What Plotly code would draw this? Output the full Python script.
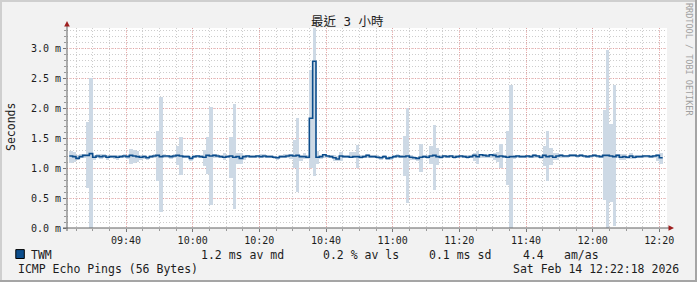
import plotly.graph_objects as go
import pandas as pd

# ---------------- data (ms), one value per minute starting 09:23 ----------------
start_time = "2026-02-14 09:23:00"
range_start = "2026-02-14 09:22:18"
range_end = "2026-02-14 12:22:18"

median = [
    1.20, 1.19, 1.16, 1.19, 1.21, 1.21, 1.24, 1.18, 1.20, 1.19,
    1.20, 1.18, 1.19, 1.19, 1.18, 1.19, 1.20, 1.19, 1.21, 1.20,
    1.19, 1.18, 1.19, 1.17, 1.19, 1.20, 1.21, 1.19, 1.20, 1.20,
    1.19, 1.20, 1.21, 1.20, 1.19, 1.19, 1.16, 1.19, 1.20, 1.19,
    1.18, 1.21, 1.20, 1.21, 1.20, 1.19, 1.18, 1.19, 1.20, 1.18,
    1.19, 1.16, 1.19, 1.20, 1.19, 1.19, 1.20, 1.19, 1.20, 1.19,
    1.19, 1.18, 1.17, 1.19, 1.19, 1.20, 1.21, 1.20, 1.21, 1.19,
    1.19, 1.18, 1.83, 2.78, 1.18, 1.19, 1.22, 1.20, 1.19, 1.17,
    1.15, 1.20, 1.19, 1.19, 1.18, 1.19, 1.19, 1.18, 1.19, 1.21,
    1.19, 1.19, 1.18, 1.17, 1.19, 1.16, 1.17, 1.19, 1.20, 1.19,
    1.19, 1.20, 1.18, 1.17, 1.16, 1.18, 1.19, 1.18, 1.20, 1.21,
    1.19, 1.18, 1.20, 1.19, 1.20, 1.18, 1.19, 1.20, 1.19, 1.18,
    1.19, 1.21, 1.19, 1.22, 1.21, 1.20, 1.22, 1.21, 1.19, 1.20,
    1.19, 1.18, 1.19, 1.19, 1.20, 1.19, 1.19, 1.20, 1.19, 1.21,
    1.20, 1.18, 1.21, 1.19, 1.20, 1.18, 1.20, 1.21, 1.20, 1.20,
    1.21, 1.21, 1.20, 1.21, 1.20, 1.19, 1.20, 1.21, 1.20, 1.19,
    1.21, 1.21, 1.20, 1.19, 1.21, 1.18, 1.19, 1.18, 1.20, 1.18,
    1.19, 1.19, 1.20, 1.20, 1.19, 1.20, 1.21, 1.17,
]

smoke_hi = [
    1.28, 1.27, 1.22, 1.23, 1.24, 1.76, 2.50, 1.22, 1.23, 1.23,
    1.23, 1.21, 1.22, 1.22, 1.21, 1.22, 1.23, 1.22, 1.32, 1.30,
    1.28, 1.21, 1.22, 1.20, 1.22, 1.23, 1.61, 2.19, 1.23, 1.22,
    1.22, 1.23, 1.36, 1.51, 1.22, 1.21, 1.19, 1.22, 1.22, 1.21,
    1.30, 1.51, 2.02, 1.24, 1.23, 1.21, 1.25, 1.22, 1.51, 2.07,
    1.25, 1.25, 1.21, 1.22, 1.21, 1.21, 1.22, 1.23, 1.23, 1.22,
    1.21, 1.20, 1.20, 1.21, 1.24, 1.24, 1.23, 1.47, 1.83, 1.22,
    1.25, 1.21, 2.64, 3.45, 1.29, 1.22, 1.24, 1.22, 1.21, 1.21,
    1.20, 1.27, 1.22, 1.21, 1.27, 1.27, 1.39, 1.21, 1.21, 1.23,
    1.22, 1.21, 1.21, 1.20, 1.22, 1.19, 1.20, 1.22, 1.23, 1.22,
    1.54, 2.00, 1.21, 1.20, 1.19, 1.40, 1.22, 1.21, 1.37, 1.71,
    1.33, 1.21, 1.22, 1.21, 1.22, 1.21, 1.21, 1.22, 1.21, 1.21,
    1.21, 1.25, 1.29, 1.24, 1.23, 1.23, 1.24, 1.25, 1.27, 1.40,
    1.22, 1.61, 2.39, 1.21, 1.22, 1.21, 1.21, 1.22, 1.21, 1.23,
    1.22, 1.22, 1.36, 1.61, 1.33, 1.25, 1.25, 1.23, 1.22, 1.22,
    1.23, 1.23, 1.22, 1.23, 1.22, 1.21, 1.22, 1.23, 1.22, 1.21,
    1.96, 2.97, 1.73, 2.39, 1.23, 1.23, 1.23, 1.20, 1.25, 1.21,
    1.21, 1.21, 1.22, 1.22, 1.21, 1.22, 1.24, 1.25,
]

smoke_lo = [
    1.08, 1.10, 1.13, 1.16, 1.17, 0.67, 0.00, 1.14, 1.16, 1.15,
    1.16, 1.14, 1.16, 1.15, 1.14, 1.16, 1.17, 1.15, 1.07, 1.08,
    1.10, 1.14, 1.15, 1.13, 1.16, 1.16, 0.79, 0.26, 1.16, 1.16,
    1.15, 1.16, 1.05, 0.89, 1.16, 1.16, 1.12, 1.16, 1.17, 1.16,
    1.03, 0.90, 0.39, 1.16, 1.16, 1.16, 1.14, 1.16, 0.84, 0.32,
    1.07, 1.07, 1.13, 1.16, 1.16, 1.16, 1.17, 1.16, 1.16, 1.16,
    1.16, 1.15, 1.13, 1.16, 1.16, 1.16, 1.15, 1.00, 0.60, 1.12,
    1.15, 1.15, 1.00, 0.87, 1.07, 1.15, 1.16, 1.17, 1.16, 1.12,
    1.12, 1.12, 1.16, 1.16, 1.17, 1.17, 1.00, 1.15, 1.16, 1.17,
    1.16, 1.16, 1.15, 1.13, 1.16, 1.13, 1.13, 1.16, 1.17, 1.16,
    0.86, 0.42, 1.13, 1.13, 1.12, 0.94, 1.16, 1.15, 1.06, 0.64,
    1.05, 1.15, 1.17, 1.16, 1.17, 1.15, 1.16, 1.17, 1.16, 1.15,
    1.16, 1.12, 1.07, 1.17, 1.17, 1.16, 1.17, 1.13, 1.10, 1.00,
    1.16, 0.72, 0.00, 1.15, 1.16, 1.16, 1.16, 1.17, 1.16, 1.17,
    1.17, 1.15, 1.03, 0.79, 1.05, 1.13, 1.13, 1.17, 1.17, 1.17,
    1.18, 1.18, 1.17, 1.18, 1.17, 1.16, 1.17, 1.18, 1.17, 1.16,
    0.46, 0.00, 0.43, 0.04, 1.17, 1.13, 1.13, 1.15, 1.15, 1.15,
    1.16, 1.16, 1.17, 1.17, 1.16, 1.17, 1.12, 1.06,
]

x_tick_vals = ["2026-02-14 09:40", "2026-02-14 10:00", "2026-02-14 10:20",
               "2026-02-14 10:40", "2026-02-14 11:00", "2026-02-14 11:20",
               "2026-02-14 11:40", "2026-02-14 12:00", "2026-02-14 12:20"]
x_tick_text = ["09:40", "10:00", "10:20", "10:40", "11:00", "11:20",
               "11:40", "12:00", "12:20"]
y_tick_vals = [0.0, 0.5, 1.0, 1.5, 2.0, 2.5, 3.0]
y_tick_text = ["0.0 m", "0.5 m", "1.0 m", "1.5 m", "2.0 m", "2.5 m", "3.0 m"]

title_text = "最近 3 小時"
legend_name = "TWM"
stats = [("1.2 ms av md", 199), ("0.2 % av ls", 320.5), ("0.1 ms sd", 427),
         ("4.4", 520.5), ("am/as", 562)]
footer_left = "ICMP Echo Pings (56 Bytes)"
footer_right = "Sat Feb 14 12:22:18 2026"
watermark = "RRDTOOL / TOBI OETIKER"

# ---------------- geometry ----------------
W, H = 697, 282
PL, PR, PT, PB = 67, 667, 28, 228  # plot area in pixels


def px(x):
    return (x - PL) / (PR - PL)


def py(y):
    return (PB - y) / (PB - PT)


steps = pd.date_range(start_time, periods=len(median), freq="1min")
centers = steps + pd.Timedelta(seconds=30)
line_x = list(steps) + [steps[-1] + pd.Timedelta(minutes=1)]
line_y = median + [median[-1]]

SMOKE = "#cdd9e5"
BLUE = "#0c4d8c"
MONO = "DejaVu Sans Mono"
TXT = "#1c1c1c"
MGRID = "rgba(245,100,100,0.4)"
GRID = "#cdcdcd"

fig = go.Figure()
fig.add_trace(go.Bar(
    x=centers, y=[h - l for h, l in zip(smoke_hi, smoke_lo)], base=smoke_lo,
    width=60000, marker=dict(color=SMOKE, line=dict(width=0)),
    hoverinfo="skip", showlegend=False,
))
fig.add_trace(go.Scatter(
    x=line_x, y=line_y, mode="lines", line=dict(color=BLUE, width=1.6, shape="hv"),
    showlegend=False,
))

fig.update_layout(
    width=W, height=H,
    margin=dict(l=PL, r=W - PR, t=PT, b=H - PB),
    paper_bgcolor="#f2f2f2", plot_bgcolor="#ffffff",
    bargap=0, barmode="overlay",
    showlegend=False,
    font=dict(family=MONO, size=10, color=TXT),
)
fig.update_xaxes(
    type="date", range=[range_start, range_end],
    tickmode="array", tickvals=x_tick_vals, ticktext=x_tick_text,
    tickfont=dict(family=MONO, size=10, color=TXT),
    showgrid=True, gridcolor=MGRID, griddash="1px,1px", gridwidth=1,
    ticks="outside", ticklen=3, tickcolor="#777777",
    minor=dict(dtick=300000, tick0="2026-02-14 09:40", showgrid=True,
               gridcolor=GRID, griddash="1px,2px", ticks="outside",
               ticklen=2, tickcolor="#999999"),
    showline=False, zeroline=False, fixedrange=True,
)
fig.update_yaxes(
    range=[0, 10 / 3],
    tickmode="array", tickvals=y_tick_vals, ticktext=y_tick_text,
    tickfont=dict(family=MONO, size=10, color=TXT),
    showgrid=True, gridcolor=MGRID, griddash="1px,1px", gridwidth=1,
    ticks="outside", ticklen=3, tickcolor="#777777",
    minor=dict(dtick=0.1, showgrid=True, gridcolor=GRID, griddash="1px,2px",
               ticks="outside", ticklen=2, tickcolor="#999999"),
    showline=False, zeroline=False, fixedrange=True,
)

shapes = []
# frame around the image
shapes.append(dict(type="line", xref="paper", yref="paper", x0=px(0), x1=px(W), y0=py(1), y1=py(1),
                   line=dict(color="#cfcfcf", width=2)))
shapes.append(dict(type="line", xref="paper", yref="paper", x0=px(1), x1=px(1), y0=py(0), y1=py(H),
                   line=dict(color="#cfcfcf", width=2)))
shapes.append(dict(type="line", xref="paper", yref="paper", x0=px(0), x1=px(W), y0=py(281), y1=py(281),
                   line=dict(color="#a5a5a5", width=2)))
shapes.append(dict(type="line", xref="paper", yref="paper", x0=px(696), x1=px(696), y0=py(0), y1=py(H),
                   line=dict(color="#a5a5a5", width=2)))
# axes
shapes.append(dict(type="line", xref="paper", yref="paper", x0=px(67), x1=px(67), y0=py(231), y1=py(25),
                   line=dict(color="#606060", width=1)))
shapes.append(dict(type="line", xref="paper", yref="paper", x0=px(63), x1=px(670), y0=py(228), y1=py(228),
                   line=dict(color="#606060", width=1)))
# arrows
shapes.append(dict(type="path", xref="paper", yref="paper",
                   path=f"M {px(67)},{py(21)} L {px(64.2)},{py(26.5)} L {px(69.8)},{py(26.5)} Z",
                   fillcolor="#9e1f1f", line=dict(width=0)))
shapes.append(dict(type="path", xref="paper", yref="paper",
                   path=f"M {px(674)},{py(228)} L {px(668.5)},{py(225.2)} L {px(668.5)},{py(230.8)} Z",
                   fillcolor="#9e1f1f", line=dict(width=0)))
# legend swatch
shapes.append(dict(type="rect", xref="paper", yref="paper", x0=px(15.8), x1=px(24.3), y0=py(258.5), y1=py(249.6),
                   fillcolor=BLUE, line=dict(color="#000000", width=1)))
fig.update_layout(shapes=shapes)

ann = []


def text(t, x, y, size=11.5, xanchor="left", color=TXT, family=MONO, angle=0):
    ann.append(dict(text=t, x=px(x), y=py(y), xref="paper", yref="paper", showarrow=False,
                    xanchor=xanchor, yanchor="middle", textangle=angle,
                    font=dict(family=family, size=size, color=color)))


text(title_text, 347, 21, size=12.5, xanchor="center", family="DejaVu Sans Mono, Noto Sans CJK TC")
text("Seconds", 10.5, 127.5, size=11.5, xanchor="center", angle=-90)
text(watermark, 689, 59, size=8.5, xanchor="center", color="#a0a0a0", angle=90)
text(legend_name, 29, 254.5)
for s, xx in stats:
    text(s, xx, 254.5)
text(footer_left, 15.5, 268.5)
text(footer_right, 681, 268.5, xanchor="right")
fig.update_layout(annotations=ann)

fig.write_html("out.html")
